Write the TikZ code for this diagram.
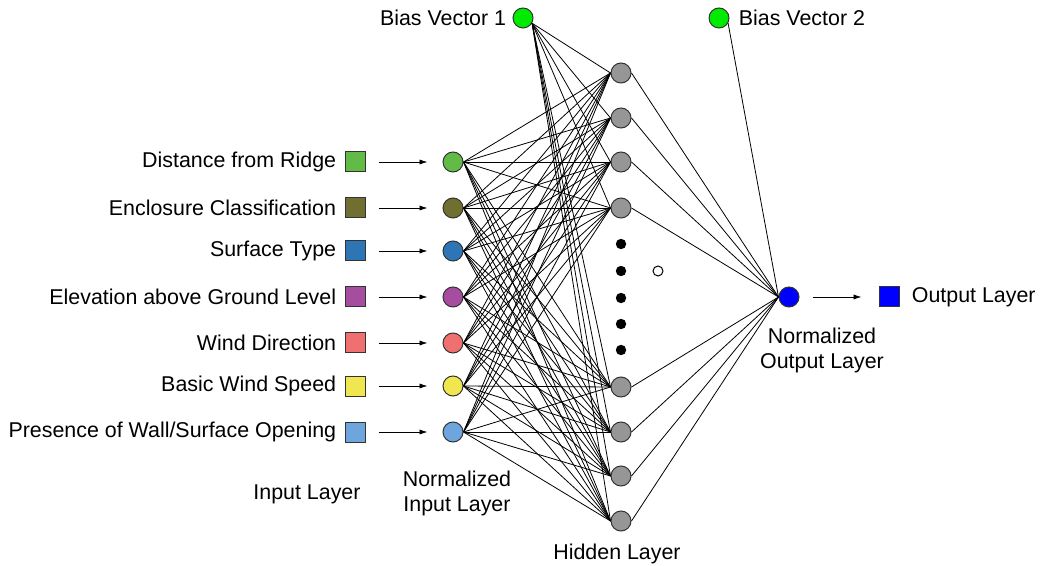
\documentclass[tikz,border=0pt]{standalone}
\usepackage{fontspec}
\setmainfont{Liberation Sans}
\usetikzlibrary{arrows.meta,positioning}

\definecolor{cRidge}{RGB}{98,187,71}
\definecolor{cEncl}{RGB}{112,110,48}
\definecolor{cSurf}{RGB}{46,117,182}
\definecolor{cElev}{RGB}{166,77,160}
\definecolor{cWind}{RGB}{240,112,112}
\definecolor{cSpeed}{RGB}{240,230,80}
\definecolor{cOpen}{RGB}{110,165,220}
\definecolor{cBias}{RGB}{0,235,0}
\definecolor{cHid}{RGB}{150,150,150}

\begin{document}
\begin{tikzpicture}[x=0.5pt,y=-0.5pt,
    font=\fontsize{10.7}{12.5}\selectfont,
    neuron/.style={circle,draw=black!80,line width=0.5pt,minimum size=10pt,inner sep=0pt},
    feat/.style={rectangle,draw=black!80,line width=0.5pt,minimum size=10pt,inner sep=0pt},
    link/.style={draw=black,line width=0.4pt},
    feed/.style={-{Latex[length=4pt,width=2.6pt]},line width=0.4pt}]
  \useasboundingbox (0,0) rectangle (1043,566);

  % input features and normalized input layer
  \foreach \y/\c/\t [count=\i] in {162/cRidge/{Distance from Ridge},
      208/cEncl/{Enclosure Classification}, 251/cSurf/{Surface Type},
      297/cElev/{Elevation above Ground Level}, 343/cWind/{Wind Direction},
      386/cSpeed/{Basic Wind Speed}, 432/cOpen/{Presence of Wall/Surface Opening}} {
    \node[feat,fill=\c] (x\i) at (355,\y) {};
    \node[inner sep=0pt,left=4pt of x\i] (t\i) {\t};
    \node[neuron,fill=\c] (n\i) at (453,\y) {};
    \draw[feed,shorten <=6.5pt,shorten >=7.5pt] (x\i.east) -- (n\i.west);
  }

  % hidden layer
  \foreach \y [count=\j] in {73,118,162,208,387,432,476,521}
    \node[neuron,fill=cHid] (h\j) at (621,\y) {};
  \foreach \y in {244,271,298,324,350}
    \fill (621,\y) circle (2.6pt);
  \draw[line width=0.5pt] (658,271) circle (2.5pt);

  % bias vectors and output
  \node[neuron,fill=cBias] (b1) at (523,18) {};
  \node[inner sep=0pt,left=3pt of b1] (tb1) {Bias Vector 1};
  \node[neuron,fill=cBias] (b2) at (719,18) {};
  \node[inner sep=0pt,right=4.5pt of b2] (tb2) {Bias Vector 2};
  \node[neuron,fill=blue] (o) at (789,297) {};
  \node[feat,fill=blue] (y) at (889,297) {};
  \node[inner sep=0pt,right=6pt of y] (ty) {Output Layer};
  \draw[feed,shorten <=6.5pt,shorten >=8.5pt] (o.east) -- (y.west);

  % connections
  \foreach \i in {1,...,7}
    \foreach \j in {1,...,8}
      \draw[link] (n\i.east) -- (h\j.west);
  \foreach \j in {1,...,8} {
    \draw[link] (b1.-30) -- (h\j.west);
    \draw[link] (h\j.east) -- (o.west);
  }
  \draw[link] (b2.-30) -- (o.west);

  % layer names
  \node[align=center] (lo) at (822,350) {Normalized\\Output Layer};
  \node[align=center] (ln) at (457,493) {Normalized\\Input Layer};
  \node (li) at (307,494) {Input Layer};
  \node (lh) at (617,554) {Hidden Layer};
\end{tikzpicture}
\end{document}
